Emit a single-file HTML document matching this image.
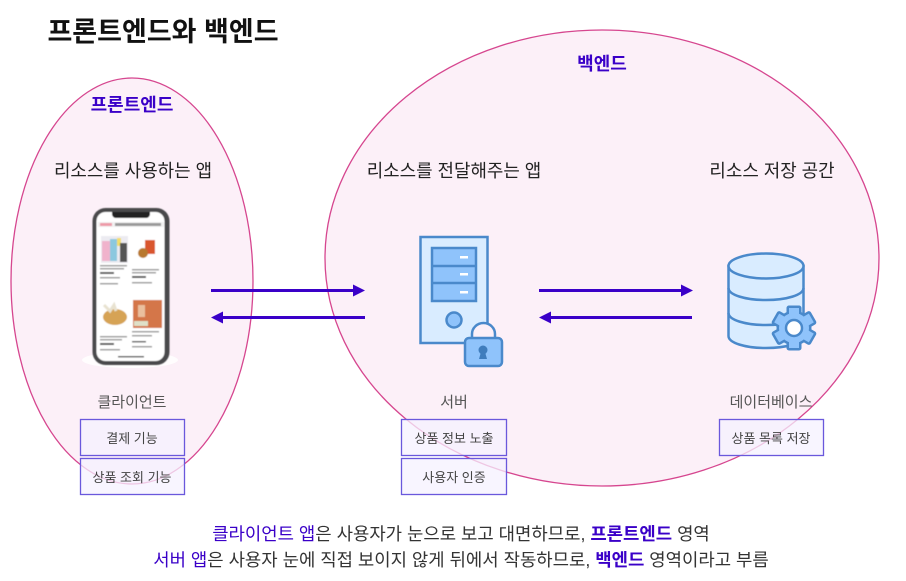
<!DOCTYPE html>
<html lang="ko">
<head>
<meta charset="utf-8">
<style>
html,body{margin:0;padding:0;background:#fff}
body{width:906px;height:581px;overflow:hidden}
svg{display:block}
text{font-family:"Liberation Sans","Noto Sans CJK KR",sans-serif;text-anchor:middle}
.p{font-size:17.900px;fill:#222}
.l{font-size:15px;fill:#555}
.s{font-size:13px;fill:#444}
.b{font-size:17.800px;fill:#333}
.h{font-weight:700;fill:#3a00c8}
.i{fill:#d9ecff;stroke:#4a89cb;stroke-width:2.500}
.j{fill:#8fc3fb;stroke:#4a89cb;stroke-width:2.500}
</style>
</head>
<body>
<svg width="906" height="581" viewBox="0 0 906 581" xmlns="http://www.w3.org/2000/svg">
<defs>
<filter id="bl" x="-10%" y="-10%" width="120%" height="120%"><feGaussianBlur stdDeviation="0.5"/></filter>
</defs>
<rect width="906" height="581" fill="#fff"/>
<text x="163" y="41" style="font-size:27px;font-weight:700;fill:#111">프론트엔드와 백엔드</text>

<ellipse cx="132" cy="281" rx="121" ry="203" fill="#fcf0f8" stroke="#d6468f" stroke-width="1.300"/>
<ellipse cx="602" cy="258" rx="277" ry="228" fill="#fcf0f8" stroke="#d6468f" stroke-width="1.300"/>

<text x="132" y="111" class="h" style="font-size:18px">프론트엔드</text>
<text x="602" y="70" class="h" style="font-size:18px">백엔드</text>

<text x="133" y="177" class="p">리소스를 사용하는 앱</text>
<text x="454" y="177" class="p">리소스를 전달해주는 앱</text>
<text x="772" y="177" class="p">리소스 저장 공간</text>

<!-- phone -->
<ellipse cx="130" cy="360" rx="48" ry="8" fill="#fff" opacity=".85"/>
<g filter="url(#bl)">
<rect x="92.500" y="208" width="77" height="157" rx="13" fill="#4a4a4c"/>
<rect x="96.500" y="212" width="68" height="149" rx="9" fill="#fff"/>
<path d="M112 212h38v2a4 4 0 0 1-4 4h-30a4 4 0 0 1-4-4z" fill="#222"/>
<rect x="98" y="222" width="66" height="5" fill="#f1f1f1"/>
<rect x="100" y="223" width="12" height="3" fill="#ee9aa8"/>
<rect x="115" y="223" width="46" height="3" fill="#999"/>
<rect x="101" y="236" width="27" height="27" fill="#ecebf1"/>
<rect x="102" y="241" width="8" height="20" fill="#f0b3cc"/>
<rect x="110" y="239" width="7" height="22" fill="#8cc8df"/>
<rect x="117" y="238" width="4" height="8" fill="#f3dd6c"/>
<rect x="120" y="243" width="7" height="19" fill="#555"/>
<rect x="145" y="240" width="10" height="14" fill="#d9562e"/>
<circle cx="143" cy="253" r="5" fill="#b8782e"/>
<g fill="#999">
<rect x="100" y="265" width="27" height="1.500"/><rect x="100" y="268" width="24" height="1.500"/><rect x="100" y="272" width="14" height="2" fill="#555"/><rect x="100" y="277" width="20" height="1.500"/><rect x="100" y="283" width="18" height="1.500"/>
<rect x="132" y="269" width="27" height="1.500"/><rect x="132" y="272" width="24" height="1.500"/><rect x="132" y="276" width="14" height="2" fill="#555"/><rect x="132" y="282" width="20" height="1.500"/>
<rect x="100" y="336" width="27" height="1.500"/><rect x="100" y="339" width="22" height="1.500"/><rect x="100" y="343" width="14" height="2" fill="#555"/><rect x="100" y="349" width="20" height="1.500"/>
<rect x="132" y="331" width="27" height="1.500"/><rect x="132" y="335" width="20" height="1.500"/><rect x="132" y="341" width="14" height="1.500" fill="#555"/><rect x="132" y="346" width="20" height="1.500"/>
</g>
<ellipse cx="115" cy="317" rx="12" ry="8" fill="#d6a354"/>
<path d="M104 305l6 6 4-6 2 6" stroke="#e8e2d0" stroke-width="3" fill="none"/>
<rect x="133" y="300" width="29" height="28" fill="#d4764a"/>
<rect x="138" y="305" width="7" height="12" fill="#eabf9e"/>
<rect x="134" y="321" width="14" height="5" fill="#dfe0c8"/>
<rect x="118" y="356" width="26" height="1.500" fill="#555"/>
</g>

<!-- server -->
<rect x="420.500" y="237" width="67" height="106" class="i"/>
<rect x="432" y="248" width="44" height="53" class="j"/>
<path d="M432 266h44M432 283h44" stroke="#4a89cb" stroke-width="2.500"/>
<rect x="460" y="256" width="8" height="2.500" fill="#fff"/>
<rect x="460" y="273" width="8" height="2.500" fill="#fff"/>
<rect x="460" y="291" width="8" height="2.500" fill="#fff"/>
<circle cx="454" cy="320" r="7.500" class="j"/>
<path d="M472 339v-5a11.500 11 0 0 1 23 0v5" fill="#fcf0f8" stroke="#4a89cb" stroke-width="2.500"/>
<rect x="465" y="338" width="37" height="28" rx="4" class="j"/>
<circle cx="483" cy="350" r="4.500" fill="#3f7dbd"/>
<path d="M481 352h4l2 7h-8z" fill="#3f7dbd"/>

<!-- arrows -->
<g stroke="#3a00c8" stroke-width="3" fill="none">
<path d="M211 290.500H355"/>
<path d="M221 317.500H365"/>
<path d="M539 290.500H683"/>
<path d="M549 317.500H692"/>
</g>
<g fill="#3a00c8">
<path d="M353 284.500l12 6-12 6z"/>
<path d="M223 311.500l-12 6 12 6z"/>
<path d="M681 284.500l12 6-12 6z"/>
<path d="M551 311.500l-12 6 12 6z"/>
</g>

<!-- database -->
<path d="M728.500 266v70c0 7 17 12 37.500 12s37.500-5 37.500-12v-70z" class="i"/>
<ellipse cx="766" cy="266" rx="37.500" ry="12.500" class="i"/>
<path d="M728.500 288c0 7 17 12 37.500 12s37.500-5 37.500-12M728.500 313c0 7 17 12 37.500 12s37.500-5 37.500-12" fill="none" stroke="#4a89cb" stroke-width="2.500"/>
<!-- gear -->
<g transform="translate(794 328)">
<g fill="#4a89cb" stroke="#4a89cb" stroke-width="5" stroke-linejoin="round">
<circle r="15"/>
<rect x="-5" y="-20" width="10" height="40"/>
<rect x="-5" y="-20" width="10" height="40" transform="rotate(60)"/>
<rect x="-5" y="-20" width="10" height="40" transform="rotate(120)"/>
</g>
<g fill="#8fc3fb">
<circle r="15"/>
<rect x="-5" y="-20" width="10" height="40"/>
<rect x="-5" y="-20" width="10" height="40" transform="rotate(60)"/>
<rect x="-5" y="-20" width="10" height="40" transform="rotate(120)"/>
</g>
<circle r="8" fill="#fff" stroke="#4a89cb" stroke-width="2.500"/>
</g>

<text x="132" y="407" class="l">클라이언트</text>
<text x="454" y="407" class="l">서버</text>
<text x="771" y="407" class="l">데이터베이스</text>

<g fill="#f5f1ff" fill-opacity=".75" stroke="#6a58dc" stroke-width="1.300">
<rect x="80.500" y="419.500" width="104" height="36"/>
<rect x="80.500" y="458.500" width="104" height="36"/>
<rect x="401.500" y="419.500" width="105" height="36"/>
<rect x="401.500" y="458.500" width="105" height="36"/>
<rect x="719.500" y="419.500" width="104" height="36"/>
</g>
<text x="132" y="443" class="s">결제 기능</text>
<text x="132" y="482" class="s">상품 조회 기능</text>
<text x="454" y="443" class="s">상품 정보 노출</text>
<text x="454" y="482" class="s">사용자 인증</text>
<text x="771" y="443" class="s">상품 목록 저장</text>

<text x="461" y="540" class="b"><tspan fill="#3a00c8">클라이언트 앱</tspan>은 사용자가 눈으로 보고 대면하므로, <tspan class="h">프론트엔드</tspan> 영역</text>
<text x="461" y="566" class="b"><tspan fill="#3a00c8">서버 앱</tspan>은 사용자 눈에 직접 보이지 않게 뒤에서 작동하므로, <tspan class="h">백엔드</tspan> 영역이라고 부름</text>
</svg>
</body>
</html>
